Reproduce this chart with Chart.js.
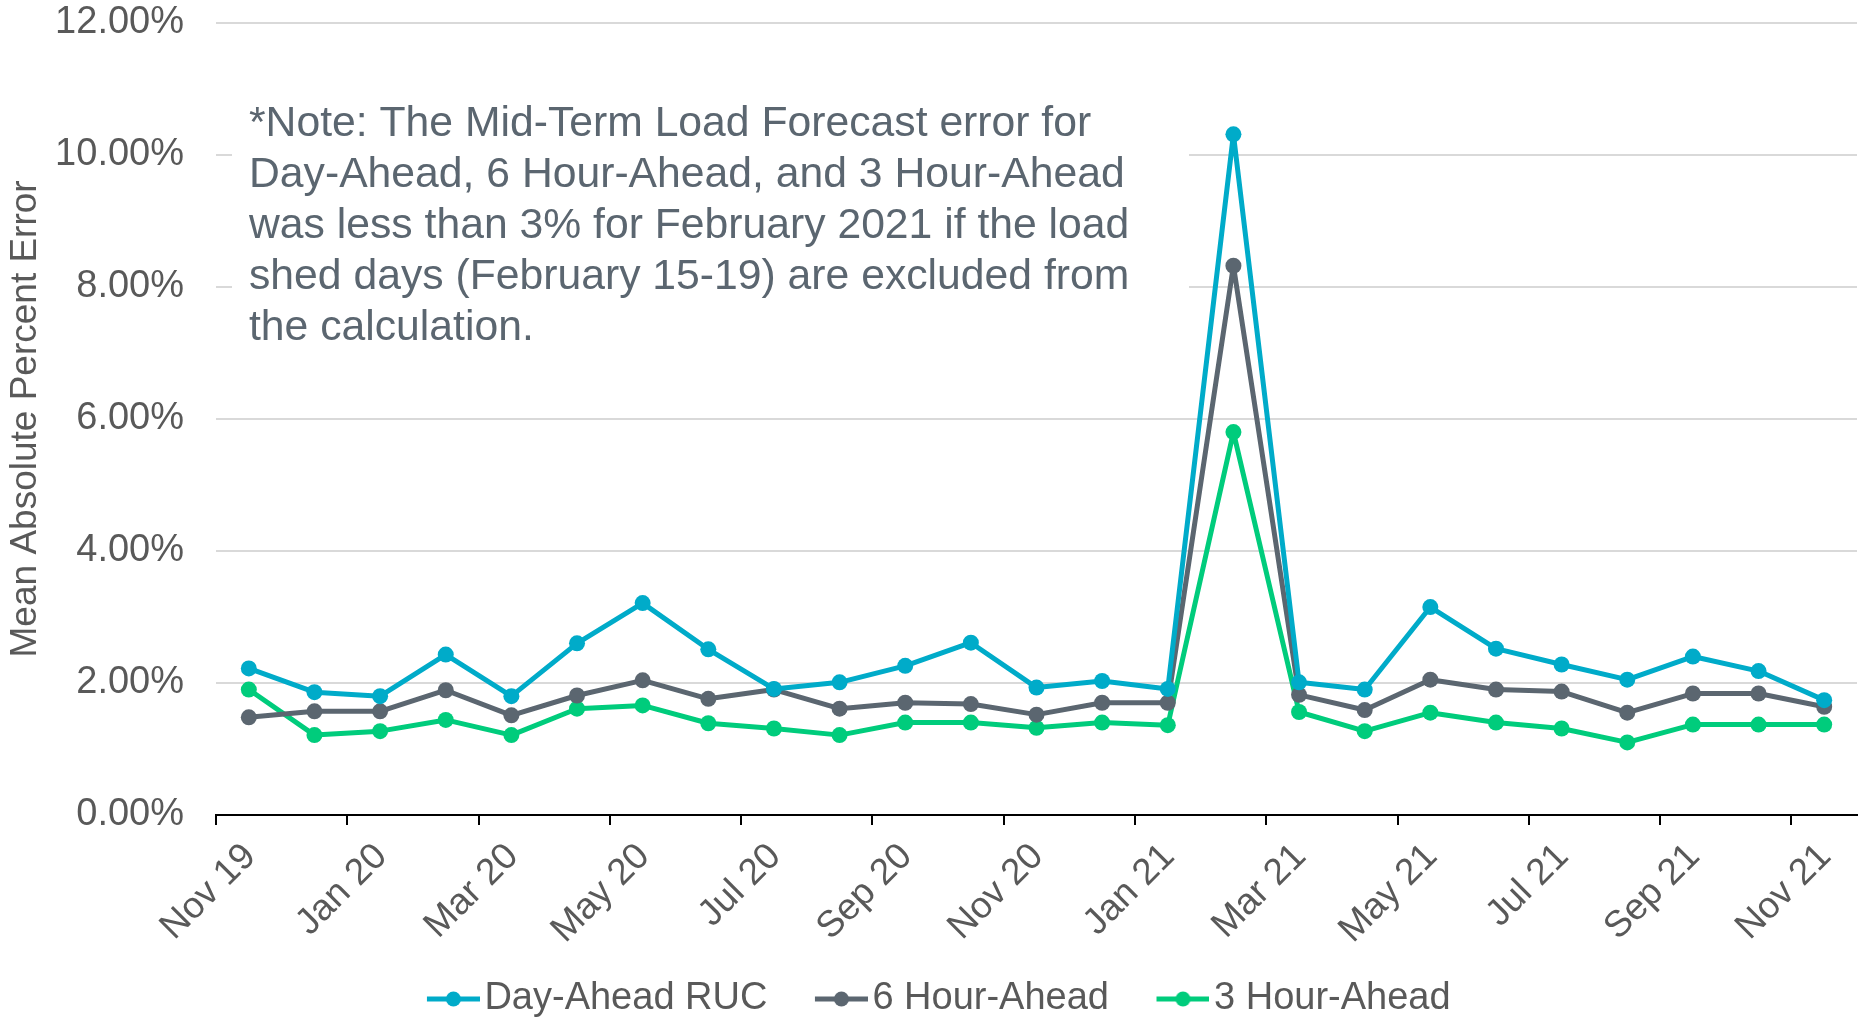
<!DOCTYPE html>
<html>
<head>
<meta charset="utf-8">
<title>Mean Absolute Percent Error</title>
<script src="https://cdn.jsdelivr.net/npm/chart.js@4/dist/chart.umd.min.js"></script>
<style>
  html, body { margin: 0; padding: 0; background: #ffffff; overflow: hidden; }
  #wrap { width: 1865px; height: 1019px; }
</style>
</head>
<body>
<div id="wrap"><canvas id="chart" width="1865" height="1019"></canvas></div>
<script>
// Monthly categories, Nov 2019 through Nov 2021
const months = [
  'Nov 19', 'Dec 19', 'Jan 20', 'Feb 20', 'Mar 20', 'Apr 20', 'May 20', 'Jun 20',
  'Jul 20', 'Aug 20', 'Sep 20', 'Oct 20', 'Nov 20', 'Dec 20', 'Jan 21', 'Feb 21',
  'Mar 21', 'Apr 21', 'May 21', 'Jun 21', 'Jul 21', 'Aug 21', 'Sep 21', 'Oct 21', 'Nov 21'
];

// Mean absolute percent error (%) per forecast horizon
const dayAheadRUC = [
  2.22, 1.86, 1.80, 2.43, 1.80, 2.60, 3.21, 2.51, 1.91, 2.01, 2.26, 2.61, 1.93,
  2.03, 1.91, 10.31, 2.01, 1.90, 3.15, 2.52, 2.28, 2.05, 2.40, 2.18, 1.74
];
const sixHourAhead = [
  1.48, 1.57, 1.57, 1.89, 1.51, 1.81, 2.04, 1.76, 1.90, 1.61, 1.70, 1.68, 1.52,
  1.70, 1.70, 8.32, 1.82, 1.59, 2.05, 1.90, 1.87, 1.55, 1.84, 1.84, 1.64
];
const threeHourAhead = [
  1.90, 1.21, 1.27, 1.44, 1.21, 1.61, 1.66, 1.39, 1.31, 1.21, 1.40, 1.40, 1.32,
  1.40, 1.36, 5.80, 1.56, 1.27, 1.55, 1.40, 1.31, 1.10, 1.37, 1.37, 1.37
];

// Axis ticks
const xTickMonths = ['Nov 19', 'Jan 20', 'Mar 20', 'May 20', 'Jul 20', 'Sep 20', 'Nov 20',
                     'Jan 21', 'Mar 21', 'May 21', 'Jul 21', 'Sep 21', 'Nov 21'];
const yTickValues = [0, 2, 4, 6, 8, 10, 12];

const seriesNames = ['Day-Ahead RUC', '6 Hour-Ahead', '3 Hour-Ahead'];
const seriesColors = ['#00ABC9', '#5B6670', '#00CC7C'];

const noteLines = [
  '*Note: The Mid-Term Load Forecast error for',
  'Day-Ahead, 6 Hour-Ahead, and 3 Hour-Ahead',
  'was less than 3% for February 2021 if the load',
  'shed days (February 15-19) are excluded from',
  'the calculation.'
];

const FONT = '"Liberation Sans", Arial, Helvetica, sans-serif';
const AXIS_TEXT = '#595959';
const PLOT_BOTTOM = 815;

// Each month occupies one unit on the x axis; points sit mid-month,
// ticks and labels sit at the start of the month.
function toPoints(values) {
  return values.map((v, i) => ({ x: i + 0.5, y: v }));
}

// Legend marker: short line with a dot in the middle, placed at the
// right end of a wider transparent strip so it hugs the label text.
const MARKER_BOX = 52;
function legendMarker(color) {
  const w = MARKER_BOX + 29;
  const c = document.createElement('canvas');
  c.width = w; c.height = 18;
  const g = c.getContext('2d');
  const x0 = MARKER_BOX - 24, x1 = w;
  g.strokeStyle = color;
  g.lineWidth = 5;
  g.beginPath();
  g.moveTo(x0, 9);
  g.lineTo(x1, 9);
  g.stroke();
  g.fillStyle = color;
  g.beginPath();
  g.arc((x0 + x1) / 2, 9, 7.5, 0, Math.PI * 2);
  g.fill();
  return c;
}

const seriesValues = [dayAheadRUC, sixHourAhead, threeHourAhead];
const datasets = seriesValues.map((vals, k) => ({
  label: seriesNames[k],
  data: toPoints(vals),
  borderColor: seriesColors[k],
  backgroundColor: seriesColors[k],
  pointBackgroundColor: seriesColors[k],
  pointBorderWidth: 0,
  pointRadius: 8,
  pointHoverRadius: 8,
  borderWidth: 5,
  borderJoinStyle: 'round',
  tension: 0,
  fill: false,
  pointStyle: 'circle'
}));

const markers = seriesColors.map(legendMarker);

// White note box with text, drawn over the gridlines
const notePlugin = {
  id: 'noteBox',
  beforeDatasetsDraw(chart) {
    const { ctx, chartArea } = chart;
    ctx.save();
    ctx.fillStyle = '#ffffff';
    ctx.fillRect(chartArea.left + 16, chartArea.top + 68, 957, 268);
    ctx.fillStyle = '#5B6670';
    ctx.font = '42.7px ' + FONT;
    ctx.textAlign = 'left';
    ctx.textBaseline = 'middle';
    noteLines.forEach((line, i) => {
      ctx.fillText(line, chartArea.left + 33, chartArea.top + 101 + i * 51.2);
    });
    ctx.restore();
  }
};

new Chart(document.getElementById('chart'), {
  type: 'line',
  data: { datasets },
  plugins: [notePlugin],
  options: {
    responsive: false,
    animation: false,
    devicePixelRatio: 1,
    layout: { padding: { top: 0, right: 1, left: 0, bottom: 0 } },
    plugins: {
      tooltip: { enabled: false },
      legend: {
        display: true,
        position: 'bottom',
        maxHeight: 73,
        labels: {
          usePointStyle: true,
          pointStyleWidth: MARKER_BOX,
          boxHeight: 18,
          padding: 34,
          color: AXIS_TEXT,
          font: { family: FONT, size: 38 },
          generateLabels(chart) {
            return chart.data.datasets.map((ds, i) => ({
              text: ds.label,
              fillStyle: ds.borderColor,
              strokeStyle: ds.borderColor,
              lineWidth: 0,
              pointStyle: markers[i],
              hidden: false,
              datasetIndex: i,
              fontColor: AXIS_TEXT
            }));
          }
        }
      }
    },
    scales: {
      x: {
        type: 'linear',
        min: 0,
        max: months.length,
        afterBuildTicks(scale) {
          scale.ticks = xTickMonths.map(m => ({ value: months.indexOf(m) }));
        },
        afterFit(scale) {
          const legendH = scale.chart.legend ? scale.chart.legend.height : 0;
          scale.height = scale.chart.height - PLOT_BOTTOM - legendH;
        },
        ticks: {
          autoSkip: false,
          minRotation: 45,
          maxRotation: 45,
          padding: 10,
          labelOffset: 34,
          color: AXIS_TEXT,
          font: { family: FONT, size: 37 },
          callback: (v) => months[v]
        },
        grid: {
          drawOnChartArea: false,
          drawTicks: true,
          tickLength: 10,
          color: '#000000',
          lineWidth: 2
        },
        border: { display: true, color: '#000000', width: 2 }
      },
      y: {
        min: 0,
        max: 12,
        afterBuildTicks(scale) {
          scale.ticks = yTickValues.map(v => ({ value: v }));
        },
        afterFit(scale) {
          scale.width = 216;
        },
        ticks: {
          padding: 0,
          color: AXIS_TEXT,
          font: { family: FONT, size: 38 },
          callback: (v) => v.toFixed(2) + '%'
        },
        grid: {
          color: '#D9D9D9',
          lineWidth: 2,
          drawTicks: true,
          tickLength: 32,
          tickColor: 'rgba(0,0,0,0)'
        },
        border: { display: false },
        title: {
          display: true,
          text: 'Mean Absolute Percent Error',
          color: AXIS_TEXT,
          font: { family: FONT, size: 37 },
          padding: { top: 4, bottom: 0 }
        }
      }
    }
  }
});
</script>
</body>
</html>
